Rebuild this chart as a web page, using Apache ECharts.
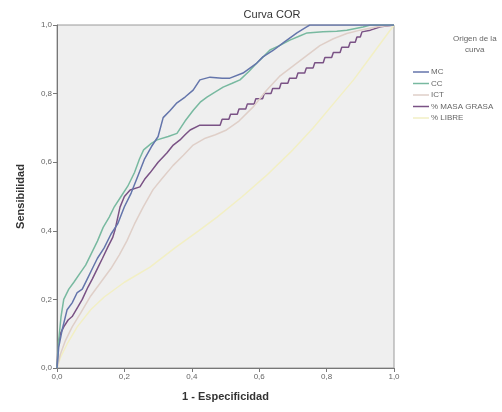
<!DOCTYPE html>
<html>
<head>
<meta charset="utf-8">
<script src="https://cdn.jsdelivr.net/npm/echarts@6/dist/echarts.min.js"></script>
<style>
  html, body { margin: 0; padding: 0; background: #fff; }
  #chart { width: 502px; height: 412px; }
</style>
</head>
<body>
<div id="chart"></div>
<script>
// valores (1 - especificidad, sensibilidad)
const ticks = [0, 0.2, 0.4, 0.6, 0.8, 1.0]
const seriesNames = ['MC', 'CC', 'ICT', '% MASA GRASA', '% LIBRE']
const seriesColors = ['#6475ab', '#78b9a0', '#dfcfc8', '#7a5285', '#f2efc4']

const mcPoints = [[0,0],[0.005,0.06],[0.015,0.11],[0.03,0.17],[0.045,0.19],[0.06,0.22],[0.075,0.23],[0.09,0.26],[0.105,0.29],[0.12,0.32],[0.14,0.35],[0.16,0.39],[0.18,0.42],[0.2,0.47],[0.22,0.51],[0.24,0.56],[0.26,0.61],[0.28,0.645],[0.3,0.675],[0.315,0.73],[0.335,0.75],[0.356,0.773],[0.38,0.79],[0.404,0.81],[0.424,0.84],[0.454,0.848],[0.49,0.845],[0.513,0.845],[0.552,0.86],[0.593,0.889],[0.611,0.907],[0.64,0.925],[0.671,0.948],[0.712,0.977],[0.742,0.995],[0.75,1],[1,1]]

const ccPoints = [[0,0],[0.005,0.08],[0.012,0.15],[0.02,0.2],[0.035,0.23],[0.05,0.25],[0.068,0.276],[0.085,0.3],[0.1,0.33],[0.12,0.37],[0.137,0.41],[0.155,0.44],[0.17,0.47],[0.19,0.5],[0.21,0.53],[0.23,0.57],[0.245,0.61],[0.257,0.636],[0.28,0.655],[0.297,0.665],[0.33,0.675],[0.356,0.684],[0.38,0.72],[0.405,0.752],[0.425,0.775],[0.445,0.79],[0.47,0.805],[0.493,0.819],[0.52,0.83],[0.543,0.84],[0.57,0.865],[0.593,0.889],[0.615,0.91],[0.632,0.927],[0.66,0.94],[0.691,0.956],[0.72,0.968],[0.742,0.977],[0.789,0.98],[0.83,0.982],[0.86,0.985],[0.908,0.994],[0.93,1],[1,1]]

const ictPoints = [[0,0],[0.01,0.04],[0.025,0.08],[0.045,0.12],[0.07,0.16],[0.1,0.21],[0.13,0.25],[0.16,0.29],[0.185,0.33],[0.207,0.37],[0.23,0.42],[0.256,0.47],[0.285,0.52],[0.31,0.55],[0.344,0.59],[0.375,0.62],[0.404,0.65],[0.44,0.67],[0.47,0.68],[0.503,0.694],[0.54,0.72],[0.583,0.762],[0.622,0.81],[0.66,0.85],[0.7,0.88],[0.74,0.91],[0.78,0.94],[0.82,0.96],[0.86,0.975],[0.9,0.985],[0.95,0.995],[1,1]]

const grasaPoints = [[0,0],[0.003,0.06],[0.01,0.1],[0.02,0.12],[0.033,0.14],[0.045,0.15],[0.062,0.178],[0.075,0.2],[0.092,0.236],[0.105,0.26],[0.122,0.294],[0.135,0.32],[0.151,0.353],[0.165,0.38],[0.172,0.402],[0.187,0.469],[0.2,0.5],[0.217,0.519],[0.246,0.528],[0.26,0.55],[0.276,0.569],[0.3,0.6],[0.326,0.627],[0.345,0.65],[0.365,0.665],[0.38,0.68],[0.395,0.694],[0.424,0.708],[0.45,0.708],[0.484,0.708],[0.49,0.725],[0.51,0.725],[0.515,0.74],[0.535,0.74],[0.54,0.755],[0.56,0.755],[0.565,0.77],[0.585,0.77],[0.59,0.785],[0.61,0.785],[0.615,0.8],[0.635,0.8],[0.64,0.815],[0.66,0.815],[0.665,0.83],[0.685,0.83],[0.69,0.845],[0.71,0.845],[0.715,0.86],[0.735,0.86],[0.74,0.875],[0.76,0.875],[0.765,0.89],[0.79,0.89],[0.795,0.905],[0.815,0.905],[0.82,0.92],[0.84,0.92],[0.845,0.935],[0.865,0.935],[0.87,0.95],[0.885,0.95],[0.89,0.965],[0.9,0.965],[0.905,0.98],[0.93,0.985],[0.96,0.995],[1,1]]

const libPoints = [[0,0],[0.01,0.03],[0.03,0.07],[0.06,0.12],[0.1,0.17],[0.14,0.207],[0.2,0.25],[0.276,0.294],[0.35,0.35],[0.42,0.4],[0.475,0.44],[0.55,0.5],[0.62,0.56],[0.7,0.636],[0.76,0.7],[0.82,0.77],[0.88,0.84],[0.94,0.92],[1,1]]

const allPoints = [mcPoints, ccPoints, ictPoints, grasaPoints, libPoints]

const fmt = v => v.toFixed(1).replace('.', ',')

const chart = echarts.init(document.getElementById('chart'), null, { renderer: 'canvas' })

const series = allPoints.map((pts, i) => ({
  name: seriesNames[i],
  type: 'line',
  data: pts,
  symbol: 'none',
  smooth: false,
  animation: false,
  lineStyle: { color: seriesColors[i], width: 1.5 },
  itemStyle: { color: seriesColors[i] },
  z: 10 - i
}))

chart.setOption({
  backgroundColor: '#fff',
  animation: false,
  textStyle: { fontFamily: 'Liberation Sans, Arial, sans-serif' },
  title: {
    text: 'Curva COR',
    left: 267,
    top: 4,
    textAlign: 'center',
    textStyle: { fontSize: 11, fontWeight: 'normal', color: '#333' }
  },
  graphic: [{
    type: 'text',
    left: 453,
    top: 33,
    style: {
      text: 'Origen de la\ncurva',
      x: 0,
      textAlign: 'center',
      fontSize: 8,
      lineHeight: 11,
      fill: '#666',
      fontFamily: 'Liberation Sans, Arial, sans-serif'
    }
  }],
  legend: {
    orient: 'vertical',
    left: 408,
    top: 62,
    icon: 'rect',
    itemWidth: 16,
    itemHeight: 1.5,
    itemGap: 1.5,
    data: seriesNames,
    textStyle: { fontSize: 8, lineHeight: 10, color: '#666', padding: [0, 0, 0, -3] }
  },
  grid: {
    left: 57, right: 108, top: 25, bottom: 44,
    show: true,
    backgroundColor: '#efefef',
    borderColor: '#9a9a9a',
    borderWidth: 1
  },
  xAxis: {
    type: 'value',
    min: 0, max: 1, interval: 0.2,
    name: '1 - Especificidad',
    nameLocation: 'middle',
    nameGap: 23,
    nameTextStyle: { fontSize: 11, fontWeight: 'bold', color: '#333' },
    axisLine: { show: true, lineStyle: { color: '#777' } },
    axisTick: { show: true, length: 4, lineStyle: { color: '#777' } },
    axisLabel: { fontSize: 8, color: '#666', margin: 5, formatter: fmt },
    splitLine: { show: false }
  },
  yAxis: {
    type: 'value',
    min: 0, max: 1, interval: 0.2,
    name: 'Sensibilidad',
    nameLocation: 'middle',
    nameGap: 31,
    nameTextStyle: { fontSize: 11, fontWeight: 'bold', color: '#333' },
    axisLine: { show: true, lineStyle: { color: '#777' } },
    axisTick: { show: true, length: 4, lineStyle: { color: '#777' } },
    axisLabel: { fontSize: 8, color: '#666', margin: 5, formatter: fmt },
    splitLine: { show: false }
  },
  series
})
</script>
</body>
</html>
